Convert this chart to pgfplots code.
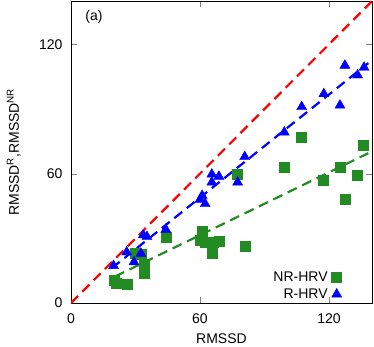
\documentclass[border=0pt]{standalone}
\usepackage{fontspec}
\setmainfont{Liberation Sans}
\usepackage{pgfplots}
\pgfplotsset{compat=1.18}

\definecolor{nrgreen}{RGB}{34,139,34}
\definecolor{rblue}{RGB}{0,0,255}
\definecolor{fitred}{RGB}{255,0,0}

\begin{document}
\begin{tikzpicture}
\begin{axis}[
  at={(0,0)}, anchor=south west,
  width=301bp, height=301.8bp, scale only axis,
  xmin=0, xmax=140, ymin=0, ymax=140,
  xtick={0,60,120}, ytick={0,60,120},
  tick align=inside, tick pos=both, major tick length=6bp,
  /pgf/number format/assume math mode=true,
  font=\fontsize{14bp}{16bp}\selectfont,
  xticklabel style={yshift=-7bp},
  yticklabel style={xshift=-5bp},
  xlabel={RMSSD},
  ylabel={RMSSD\textsuperscript{R},RMSSD\textsuperscript{NR}},
  xlabel style={at={(axis description cs:0.5,-0.118)}, anchor=center},
  ylabel style={at={(axis description cs:-0.19,0.5)}, anchor=center},
  legend plot pos=right,
  legend cell align=right,
  legend image code/.code={\draw[#1, mark indices={2}] plot coordinates {(0bp,0bp) (20bp,0bp) (24bp,0bp)};},
  legend style={draw=none, fill=none, inner sep=0pt,
    nodes={inner xsep=4bp, inner ysep=3bp},
    at={(axis description cs:0.9,0.0)}, anchor=south east},
]
\addplot[only marks, mark=square*, mark size=5bp, color=nrgreen] coordinates {
  (20,10.5) (20.8,9.3) (26,8.9) (30,23) (32.8,22.5) (34.2,18) (34,14)
  (44.1,30.4) (60.9,33.4) (60,29.1) (62.6,28.2) (65.6,23) (66.2,28.3)
  (69,28.5) (77.5,59.9) (80.9,26.3) (99.1,63.1) (107.3,77) (117.5,56.9)
  (125.1,62.8) (127.4,48.1) (133.3,59.2) (136,73.2)
};
\addlegendentry{NR-HRV}
\addplot[only marks, mark=triangle*, mark size=5.8bp, color=rblue] coordinates {
  (19.8,17.3) (25.9,23.6) (29.3,19) (32.5,23) (33.6,31.5) (35.3,30.8)
  (44.1,34.1) (60,48) (61,49.8) (62.4,46) (65.5,59.7) (65.5,56)
  (68.8,58.7) (77.5,56) (80.8,67.8) (99.2,79.2) (107.3,91) (117.6,97)
  (125.1,91.7) (127.4,110.2) (133.3,105.7) (136.3,109.3)
};
\addlegendentry{R-HRV}
\addplot[fitred, line width=2.2bp, dash pattern=on 10bp off 6bp, forget plot] coordinates {(0,0) (140,140)};
\addplot[rblue, line width=2.2bp, dash pattern=on 10bp off 6bp, forget plot] coordinates {(19,16.2) (138.3,111.3)};
\addplot[nrgreen, line width=2.2bp, dash pattern=on 10bp off 6bp, forget plot] coordinates {(20.5,12.3) (138.3,69.5)};
\node at (axis cs:10.7,132.7) {(a)};
\end{axis}
\path[use as bounding box] (-71bp,-43bp) rectangle (303bp,303bp);
\end{tikzpicture}
\end{document}
